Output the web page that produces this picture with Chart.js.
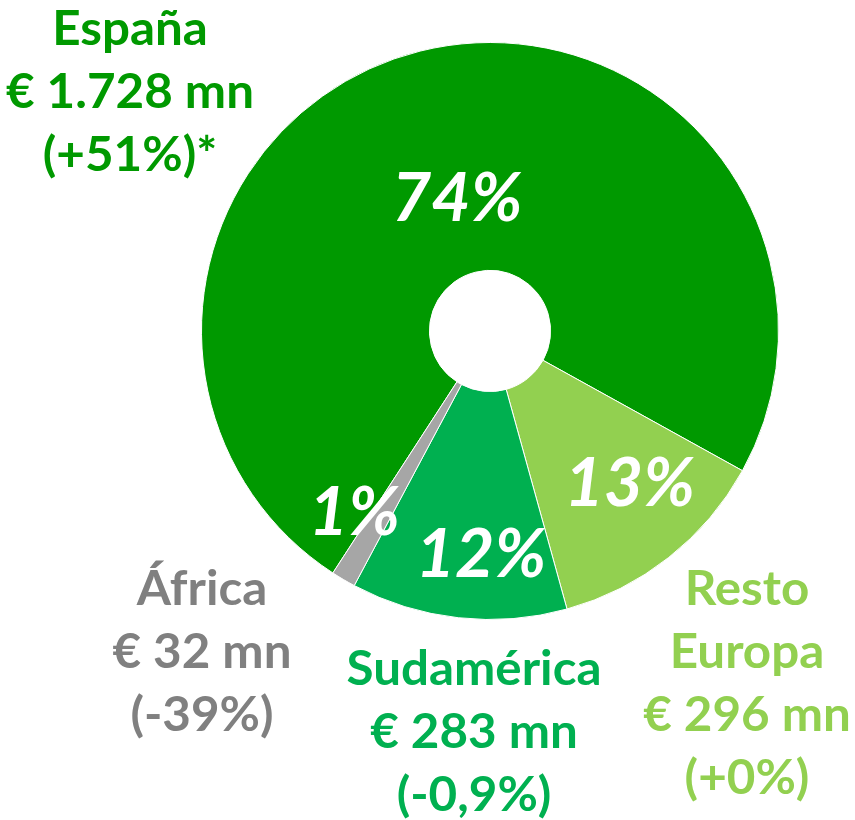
<!DOCTYPE html>
<html>
<head>
<meta charset="utf-8">
<script src="https://cdn.jsdelivr.net/npm/chart.js@4"></script>
<style>
  html, body { margin: 0; padding: 0; background: #fff; }
  #wrap { width: 855px; height: 820px; position: relative; }
</style>
</head>
<body>
<div id="wrap"><canvas id="ventasChart"></canvas></div>
<script>
// Datos
const regiones = ['España', 'Resto Europa', 'Sudamérica', 'África'];
const nombres = [['España'], ['Resto', 'Europa'], ['Sudamérica'], ['África']];
const ventas = [1728, 296, 283, 32]; // € mn
const ventasTexto = ['€ 1.728 mn', '€ 296 mn', '€ 283 mn', '€ 32 mn'];
const variacion = ['(+51%)*', '(+0%)', '(-0,9%)', '(-39%)'];
const cuota = [74, 13, 12, 1];

const coloresSector = ['#009900', '#92D050', '#00B050', '#A6A6A6'];
const coloresTexto = ['#009900', '#92D050', '#00B050', '#808080'];

// posicion de los textos exteriores: centro x, primera linea base
const posTextos = [[130, 45], [747, 605], [474, 685], [202, 605]];
// etiquetas interiores: fraccion del radio, desplazamiento angular (grados)
const posCuota = [[0.47, 0], [0.72, -4], [0.78, -4], [0.79, 6]];

const FUENTE = 'Lato, "Open Sans", sans-serif';

// texto un poco mas ancho (la fuente original es mas ancha)
function textoAncho(ctx, t, x, y, sx) {
  ctx.save();
  ctx.translate(x, y);
  ctx.scale(sx, 1);
  ctx.fillText(t, 0, 0);
  ctx.restore();
}

const textosPlugin = {
  id: 'textos',
  afterDraw(chart) {
    const ctx = chart.ctx;
    const arcs = chart.getDatasetMeta(0).data;
    ctx.save();
    ctx.textAlign = 'center';
    ctx.textBaseline = 'middle';
    ctx.fillStyle = '#fff';
    ctx.font = 'italic bold 66px ' + FUENTE;
    arcs.forEach((arc, i) => {
      const p = arc.getProps(['x', 'y', 'startAngle', 'endAngle', 'outerRadius'], true);
      const a = (p.startAngle + p.endAngle) / 2 + posCuota[i][1] * Math.PI / 180;
      const r = p.outerRadius * posCuota[i][0];
      textoAncho(ctx, cuota[i] + '%', p.x + Math.cos(a) * r, p.y + Math.sin(a) * r, 1.03);
    });

    ctx.textBaseline = 'alphabetic';
    ctx.font = 'bold 47px ' + FUENTE;
    regiones.forEach((reg, i) => {
      const lineas = nombres[i].concat([ventasTexto[i], variacion[i]]);
      ctx.fillStyle = coloresTexto[i];
      lineas.forEach((t, k) => {
        textoAncho(ctx, t, posTextos[i][0], posTextos[i][1] + k * 63, 1.05);
      });
    });
    ctx.restore();
  }
};

new Chart(document.getElementById('ventasChart'), {
  type: 'doughnut',
  data: {
    labels: regiones,
    datasets: [{
      data: ventas,
      backgroundColor: coloresSector,
      borderColor: '#ffffff',
      borderWidth: 1
    }]
  },
  options: {
    responsive: true,
    maintainAspectRatio: false,
    animation: false,
    rotation: 213,
    cutout: '21%',
    layout: { padding: { left: 201, right: 76, top: 42, bottom: 200 } },
    plugins: {
      legend: { display: false },
      tooltip: { enabled: false }
    }
  },
  plugins: [textosPlugin]
});
</script>
</body>
</html>
